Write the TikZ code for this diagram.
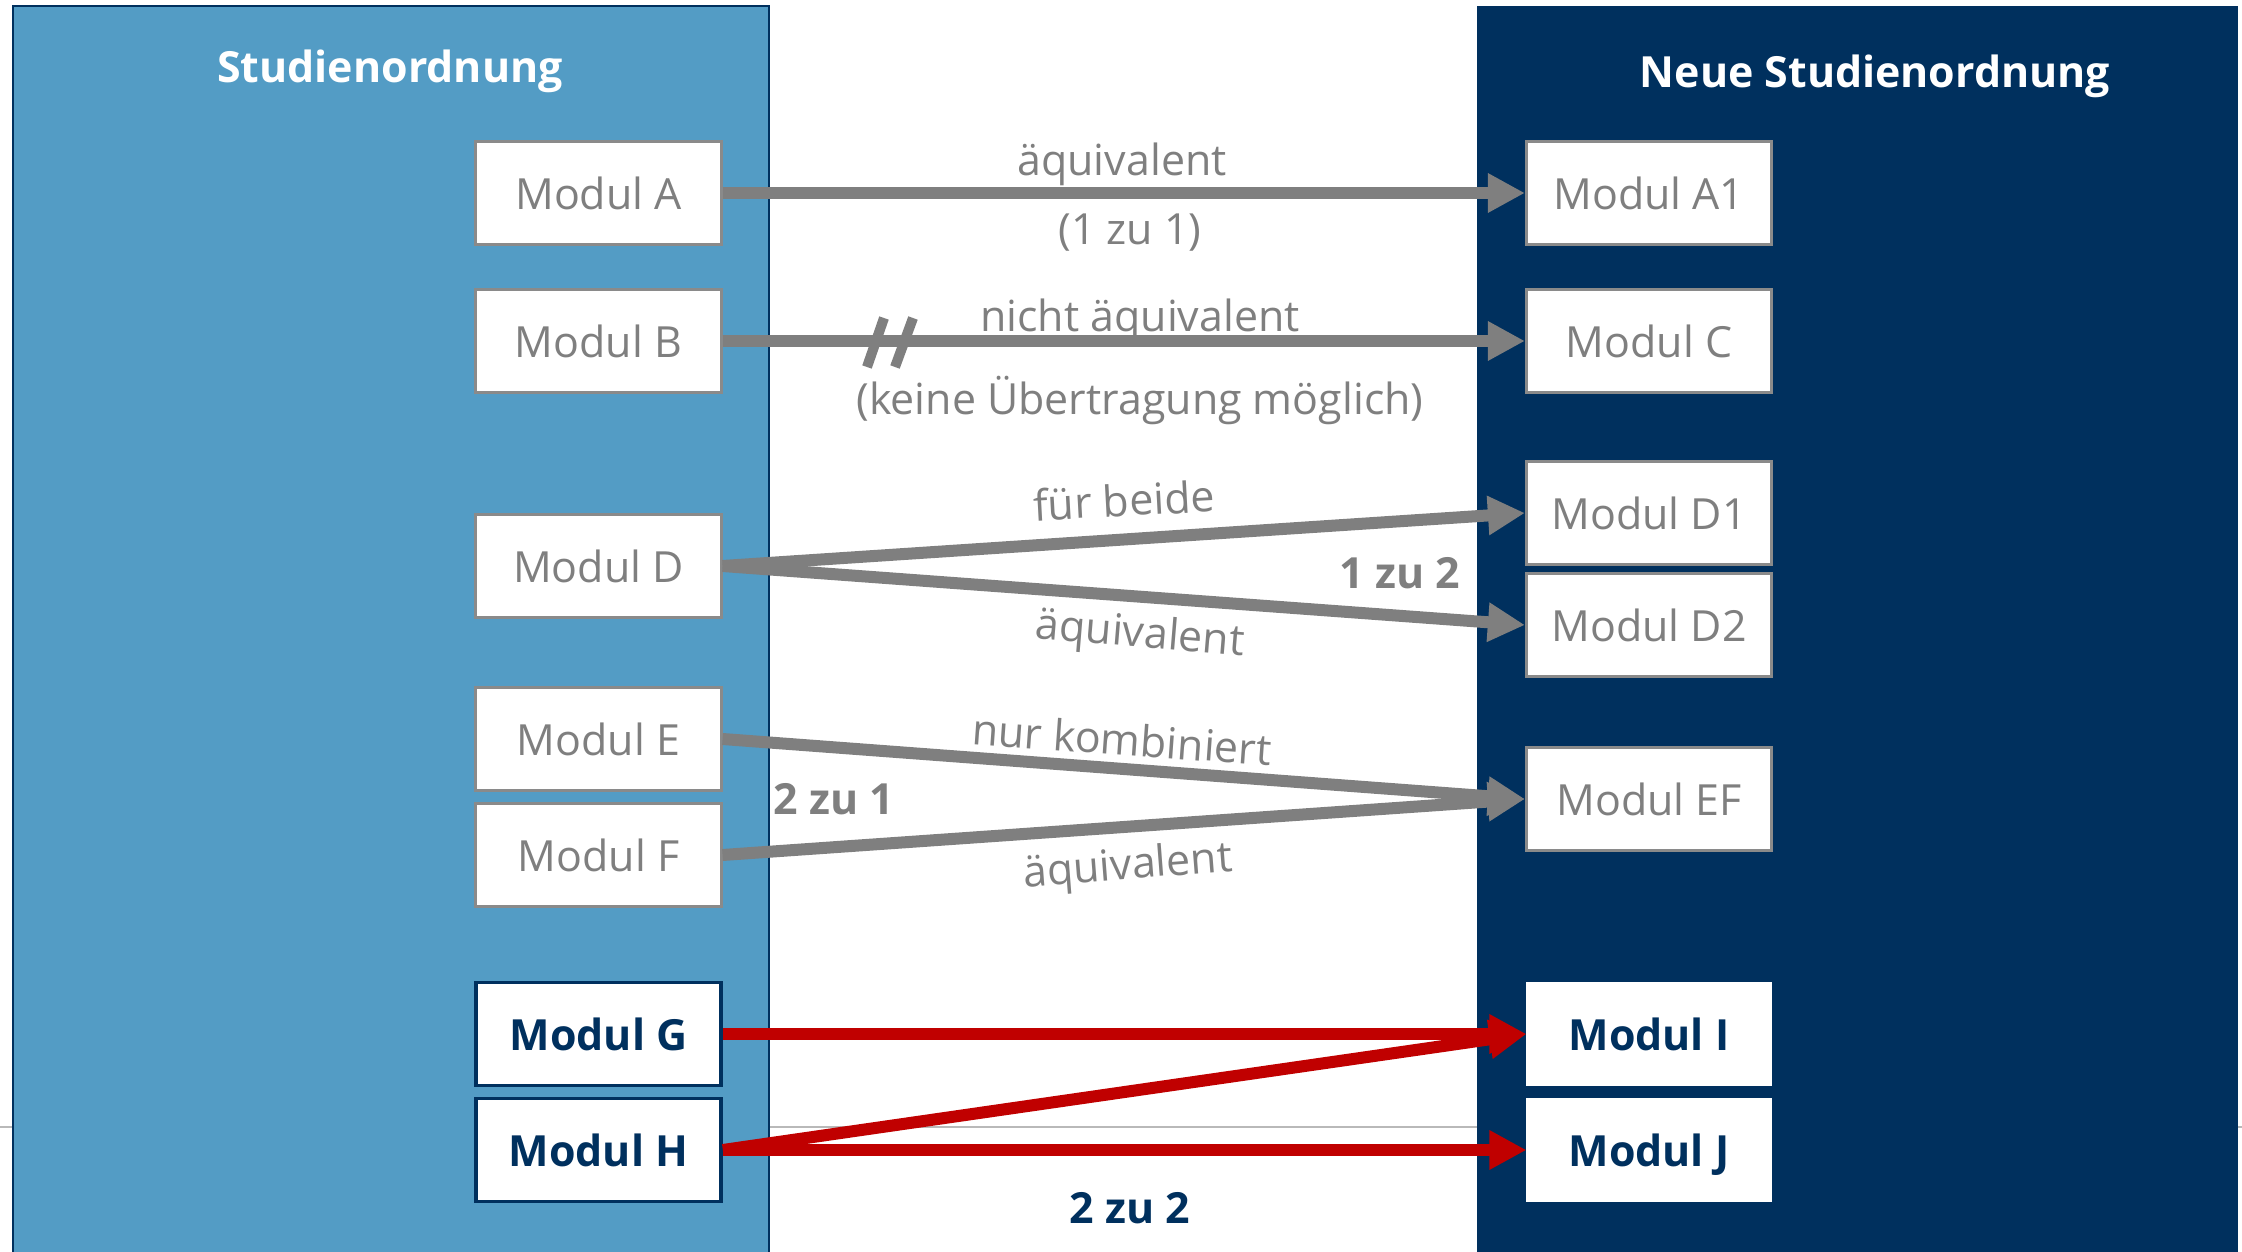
\documentclass[tikz,border=0pt]{standalone}
\usepackage{fontspec}
\setmainfont{Open Sans}
\usetikzlibrary{arrows.meta}
\definecolor{panelblue}{HTML}{539CC5}
\definecolor{navy}{HTML}{00305E}
\definecolor{arrowgray}{HTML}{7F7F7F}
\definecolor{boxgray}{HTML}{8A8A8A}
\definecolor{linkred}{HTML}{C00000}

\begin{document}
\begin{tikzpicture}[x=0.01cm,y=-0.01cm,
  every node/.style={font=\fontsize{12.2}{14}\selectfont},
  modbox/.style={draw=boxgray, line width=0.03cm, fill=white,
    minimum width=2.45cm, minimum height=1.03cm, inner sep=0, text=arrowgray,
    text height=0.33cm, text depth=0cm},
  keybox/.style={modbox, draw=navy, line width=0.035cm, text=navy,
    font=\fontsize{12.2}{14}\selectfont\bfseries},
  newkeybox/.style={keybox, draw=white, line width=0pt},
  title/.style={text=white, font=\fontsize{12.2}{14}\selectfont\bfseries},
  lbl/.style={text=arrowgray, inner sep=0},
  boldlbl/.style={lbl, font=\fontsize{12.2}{14}\selectfont\bfseries},
  conn/.style={draw=arrowgray, line width=0.12cm,
    -{Triangle[length=0.37cm,width=0.37cm]}},
  redconn/.style={conn, draw=linkred},
  breakmark/.style={draw=arrowgray, line width=0.1cm}]
\useasboundingbox (0,0) rectangle (2242,1252);

% thin separator line behind the panels
\draw[gray!55, line width=0.025cm] (0,1127) -- (2242,1127);

% the two panels
\fill[panelblue, draw=navy, line width=0.025cm] (13,6) rectangle (769,1270);
\fill[navy] (1477,6) rectangle (2238,1270);
\node[title] (t1) at (390,71) {Studienordnung};
\node[title] (t2) at (1875,76) {Neue Studienordnung};

% modules of the old regulation
\node[modbox] (A) at (598.5,193) {Modul A};
\node[modbox] (B) at (598.5,341) {Modul B};
\node[modbox] (D) at (598.5,566) {Modul D};
\node[modbox] (E) at (598.5,739) {Modul E};
\node[modbox] (F) at (598.5,855) {Modul F};
\node[keybox] (G) at (598.5,1034) {Modul G};
\node[keybox] (H) at (598.5,1150) {Modul H};

% modules of the new regulation
\node[modbox] (A1) at (1649,193) {Modul A1};
\node[modbox] (C)  at (1649,341) {Modul C};
\node[modbox] (D1) at (1649,513) {Modul D1};
\node[modbox] (D2) at (1649,625) {Modul D2};
\node[modbox] (EF) at (1649,799) {Modul EF};
\node[newkeybox] (I) at (1649,1034) {Modul I};
\node[newkeybox] (J) at (1649,1150) {Modul J};

% connectors
\draw[conn] (A.east) -- (A1.west);
\draw[conn] (B.east) -- (C.west);
\draw[conn] (D.east) -- (D1.west);
\draw[conn] (D.east) -- (D2.west);
\draw[conn] (E.east) -- (EF.west);
\draw[conn] (F.east) -- (EF.west);
\draw[redconn] (G.east) -- (I.west);
\draw[redconn] (H.east) -- (I.west);
\draw[redconn] (H.east) -- (J.west);

% break marks on the non-equivalent link
\draw[breakmark] (867,367) -- (884,318);
\draw[breakmark] (895,367) -- (913,318);

% labels
\node[lbl] (l1) at (1122,164) {äquivalent};
\node[lbl] (l2) at (1130,233) {(1 zu 1)};
\node[lbl] (l3) at (1140,320) {nicht äquivalent};
\node[lbl] (l4) at (1140,400) {(keine Übertragung möglich)};
\node[lbl, rotate=3.1] (l5) at (1124,500) {für beide};
\node[lbl, rotate=-4.7] (l6) at (1140,636) {äquivalent};
\node[boldlbl] (l7) at (1400,573) {1 zu 2};
\node[lbl, rotate=-4.1] (l8) at (1122,739) {nur kombiniert};
\node[lbl, rotate=4.4] (l9) at (1128,868) {äquivalent};
\node[boldlbl] (l10) at (834,799) {2 zu 1};
\node[boldlbl, text=navy] (l11) at (1130,1208) {2 zu 2};
\end{tikzpicture}
\end{document}
